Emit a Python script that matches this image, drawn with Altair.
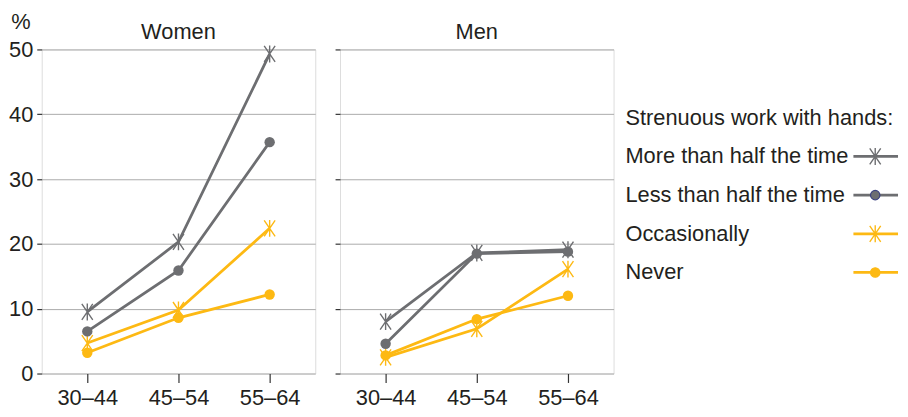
import altair as alt
import pandas as pd

ages = ["30–44", "45–54", "55–64"]
series = ["More than half the time", "Less than half the time", "Occasionally", "Never"]
panels = ["Women", "Men"]
unit_label = "%"

women_more = [9.5, 20.3, 49.3]
women_less = [6.5, 15.9, 35.7]
women_occ = [4.7, 9.8, 22.4]
women_never = [3.2, 8.6, 12.2]

men_more = [8.0, 18.6, 19.1]
men_less = [4.6, 18.5, 18.8]
men_occ = [2.5, 6.9, 16.1]
men_never = [2.8, 8.4, 12.0]

colors = ["#6d6e71", "#6d6e71", "#fdb913", "#fdb913"]
dot_strokes = ["#6d6e71", "#3d4380", "#fdb913", "#fdb913"]
star_series = ["More than half the time", "Occasionally"]
dot_series = ["Less than half the time", "Never"]
legend_title = "Strenuous work with hands:"

rows = []
for pname, vals in [("Women", [women_more, women_less, women_occ, women_never]),
                    ("Men", [men_more, men_less, men_occ, men_never])]:
    for s, v in zip(series, vals):
        for a, val in zip(ages, v):
            rows.append({"panel": pname, "series": s, "age": a, "value": val})
df = pd.DataFrame(rows)

FONT = "Liberation Sans"
FS = 22
TXT = "#231f20"
STAR = "M0,-1L0,1M-0.65,-0.95L0.65,0.95M-0.65,0.95L0.65,-0.95"

color_scale = alt.Scale(domain=series, range=colors)
stroke_scale = alt.Scale(domain=series, range=dot_strokes)


def make_panel(name, first):
    base = alt.Chart(df).transform_filter(alt.datum.panel == name)
    x = alt.X("age:N", sort=ages, scale=alt.Scale(type="point", padding=0.5),
              axis=alt.Axis(title=None, labelFontSize=FS, labelFont=FONT, labelColor=TXT,
                            tickSize=9, tickColor="#333", tickWidth=1.2, labelPadding=5,
                            domain=False, grid=False, labelAngle=0))
    y = alt.Y("value:Q", scale=alt.Scale(domain=[0, 50], nice=False),
              axis=alt.Axis(values=[0, 10, 20, 30, 40, 50], grid=True, gridColor="#aaaaaa",
                            gridWidth=1, tickSize=5, tickColor="#333", tickWidth=1.2,
                            domain=False, labelFontSize=FS, labelFont=FONT, labelColor=TXT,
                            labelPadding=4, labels=first, title=None))
    color = alt.Color("series:N", scale=color_scale, legend=None)

    lines = base.mark_line(strokeWidth=2.8).encode(x=x, y=y, color=color, detail="series:N")
    stars = base.transform_filter(alt.FieldOneOfPredicate(field="series", oneOf=star_series)).mark_point(
        shape=STAR, filled=False, size=289, strokeWidth=1.4, opacity=1).encode(x=x, y=y, color=color)
    dots = base.transform_filter(alt.FieldOneOfPredicate(field="series", oneOf=dot_series)).mark_point(
        shape="circle", filled=True, size=110, opacity=1).encode(x=x, y=y, color=color)
    head = alt.Chart(pd.DataFrame({"t": [name]})).mark_text(
        fontSize=FS, font=FONT, color=TXT, align="center", baseline="middle").encode(
        text="t:N", x=alt.value(138), y=alt.value(-18))
    layers = [lines, stars, dots, head]
    if first:
        unit = alt.Chart(pd.DataFrame({"t": [unit_label]})).mark_text(
            fontSize=FS, font=FONT, color=TXT, align="center", baseline="middle").encode(
            text="t:N", x=alt.value(-21), y=alt.value(-28))
        layers.append(unit)
    return alt.layer(*layers).properties(width=276, height=327)


leg_df = pd.DataFrame({
    "row": [0, 1, 2, 3, 4],
    "label": [legend_title] + series,
    "series": ["title"] + series,
})
leg_base = alt.Chart(leg_df)
ly = alt.Y("row:Q", scale=alt.Scale(domain=[0, 4], range=[69, 225]), axis=None)
lcolor = alt.Color("series:N", scale=color_scale, legend=None)
leg_text = leg_base.mark_text(align="left", baseline="middle", fontSize=FS, font=FONT,
                              color=TXT).encode(x=alt.value(-13), y=ly, text="label:N")
leg_rule = leg_base.transform_filter(alt.datum.row > 0).mark_rule(strokeWidth=2.8).encode(
    x=alt.value(217), x2=alt.value(262), y=ly, color=lcolor)
leg_star = leg_base.transform_filter(alt.FieldOneOfPredicate(field="series", oneOf=star_series)).mark_point(
    shape=STAR, filled=False, size=289, strokeWidth=1.4, opacity=1).encode(x=alt.value(239), y=ly, color=lcolor)
leg_dot = leg_base.transform_filter(alt.FieldOneOfPredicate(field="series", oneOf=dot_series)).mark_point(
    shape="circle", filled=True, size=90, opacity=1, strokeWidth=1.2).encode(
    x=alt.value(239), y=ly, fill=alt.Fill("series:N", scale=color_scale, legend=None),
    stroke=alt.Stroke("series:N", scale=stroke_scale, legend=None))
legend = alt.layer(leg_text, leg_rule, leg_star, leg_dot).resolve_scale(
    stroke="independent").properties(
    width=260, height=327,
    view=alt.ViewBackground(strokeOpacity=0))

chart = alt.hconcat(
    make_panel("Women", True), make_panel("Men", False), legend,
    spacing=25, bounds="flush"
).properties(padding=0).configure_view(stroke="#333333", strokeWidth=1.4).configure(
    font=FONT, background="white")

chart.save("out.html", embed_options={"renderer": "svg", "actions": False})
